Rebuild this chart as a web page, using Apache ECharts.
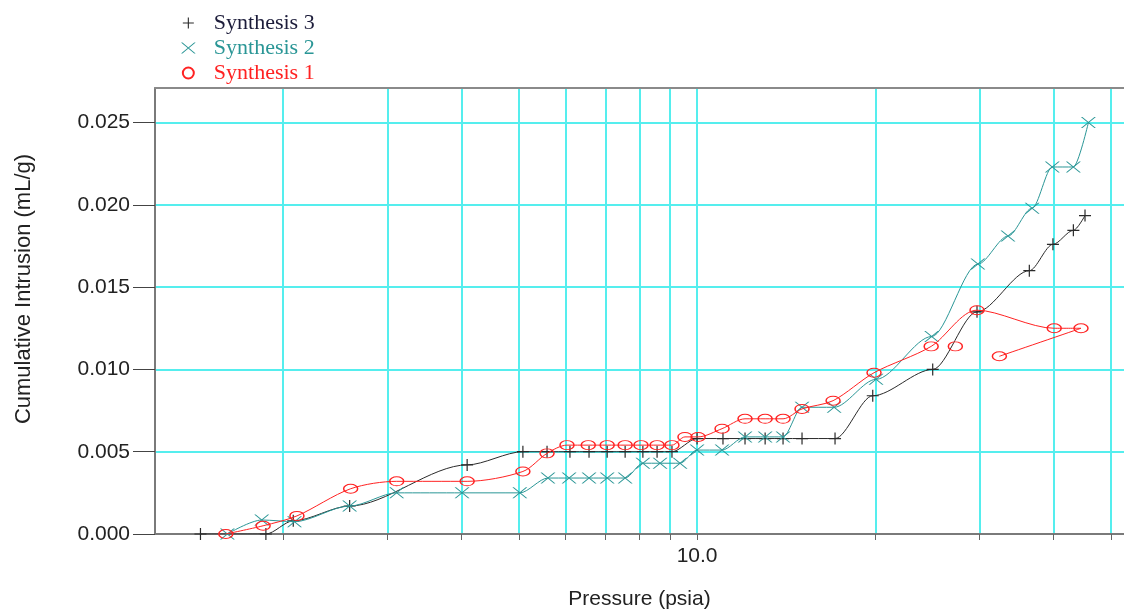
<!DOCTYPE html>
<html>
<head>
<meta charset="utf-8">
<script src="https://cdn.jsdelivr.net/npm/echarts@6/dist/echarts.min.js"></script>
<style>
html,body{margin:0;padding:0;background:#fff;}
#chart{width:1124px;height:615px;}
</style>
</head>
<body>
<div id="chart"></div>
<script>
// ---- data ----
const seriesNames = ['Synthesis 3', 'Synthesis 2', 'Synthesis 1'];

const s3Pressure = [1.45, 1.87, 2.08, 2.59, 4.09, 5.08, 5.58, 6.10, 6.57, 7.05, 7.56, 8.10, 8.56, 9.07, 10.0, 11.06, 12.05, 13.03, 13.97, 15.04, 17.1, 19.8, 25.0, 29.7, 36.4, 39.9, 43.2, 45.2];
const s3Intrusion = [0, 0, 0.0008, 0.0017, 0.0042, 0.0050, 0.0050, 0.0050, 0.0050, 0.0050, 0.0050, 0.0050, 0.0050, 0.0050, 0.0058, 0.0058, 0.0058, 0.0058, 0.0058, 0.0058, 0.0058, 0.0084, 0.0100, 0.0135, 0.0160, 0.0176, 0.01845, 0.01935];

const s2Pressure = [1.61, 1.84, 2.09, 2.59, 3.11, 4.01, 5.02, 5.60, 6.08, 6.57, 7.05, 7.56, 8.10, 8.66, 9.36, 10.0, 11.02, 12.05, 13.03, 13.97, 15.04, 17.04, 20.06, 24.9, 29.8, 33.5, 36.8, 39.8, 43.2, 45.8];
const s2Intrusion = [0, 0.00085, 0.00075, 0.0017, 0.0025, 0.0025, 0.0025, 0.0034, 0.0034, 0.0034, 0.0034, 0.0034, 0.0043, 0.0043, 0.0043, 0.0051, 0.0051, 0.0059, 0.0059, 0.0059, 0.0077, 0.0077, 0.0094, 0.0120, 0.0164, 0.0181, 0.0198, 0.0223, 0.0223, 0.0250];

const s1Pressure = [1.60, 1.85, 2.11, 2.60, 3.11, 4.09, 5.08, 5.58, 6.03, 6.55, 7.05, 7.56, 8.04, 8.56, 9.07, 9.54, 10.04, 11.02, 12.05, 13.03, 13.97, 15.04, 16.97, 19.9, 24.85, 29.7, 40.1, 44.5, 32.4, null, 27.3];
const s1Intrusion = [0, 0.0005, 0.0011, 0.00275, 0.0032, 0.0032, 0.0038, 0.0049, 0.0054, 0.0054, 0.0054, 0.0054, 0.0054, 0.0054, 0.0054, 0.0059, 0.0059, 0.0064, 0.0070, 0.0070, 0.0070, 0.0076, 0.0081, 0.0098, 0.0114, 0.0136, 0.0125, 0.0125, 0.0108, null, 0.0114];

const xTickValues = [2, 3, 4, 5, 6, 7, 8, 9, 10, 20, 30, 40, 50];
const xLabelValues = [10];
const yTickValues = [0, 0.005, 0.010, 0.015, 0.020, 0.025];
const xMin = 1.215, xMax = 52.6;
const yMin = 0, yMax = 0.0271;

// ---- build ----
function pairs(px, py) {
  return px.map((p, i) => (p == null || py[i] == null) ? ['-', '-'] : [p, py[i]]);
}

const plusPath = 'path://M5.4,0H6.6V12H5.4Z M0,5.4H12V6.6H0Z';
const crossPath = 'path://M0,0L1.6,0L16,12L14.4,12Z M14.4,0L16,0L1.6,12L0,12Z';

const cS3 = '#2a2a2a', cS2 = '#2a9696', cS1 = '#ff2222';
const sansFont = '"Liberation Sans", Arial, sans-serif';
const serifFont = '"Liberation Serif", "Times New Roman", serif';

const chart = echarts.init(document.getElementById('chart'));
const legendText = (color) => ({ color: color, fontFamily: serifFont, fontSize: 22, padding: [0, 0, 0, 13] });
const option = {
  animation: false,
  backgroundColor: '#ffffff',
  legend: {
    orient: 'vertical',
    left: 176,
    top: 7,
    itemGap: 3,
    itemWidth: 15,
    itemHeight: 11,
    textStyle: legendText('#222'),
    data: [
      { name: seriesNames[0], icon: plusPath, textStyle: legendText('#1c1c3a') },
      { name: seriesNames[1], icon: crossPath, textStyle: legendText(cS2) },
      { name: seriesNames[2], icon: 'circle', textStyle: legendText(cS1) }
    ]
  },
  grid: { left: 155, right: 0, top: 88, bottom: 77 },
  xAxis: [{
    type: 'log',
    logBase: 10,
    min: xMin,
    max: xMax,
    name: 'Pressure (psia)',
    nameLocation: 'middle',
    nameGap: 55,
    nameTextStyle: { fontFamily: sansFont, fontSize: 21, color: '#222' },
    axisLine: { show: true, onZero: false, lineStyle: { color: '#7a7a7a', width: 2 } },
    axisTick: { show: true, customValues: xTickValues, length: 6, lineStyle: { color: '#666', width: 1 } },
    axisLabel: { customValues: xLabelValues, formatter: v => Number(v).toFixed(1), margin: 12, fontFamily: sansFont, fontSize: 21, color: '#222' },
    splitLine: { show: true, lineStyle: { color: '#55eeee', width: 2 } },
    minorTick: { show: false },
    minorSplitLine: { show: false }
  }, {
    type: 'log',
    logBase: 10,
    position: 'top',
    min: xMin,
    max: xMax,
    axisLine: { show: true, onZero: false, lineStyle: { color: '#8a8a8a', width: 2 } },
    axisTick: { show: false },
    axisLabel: { show: false },
    splitLine: { show: false }
  }],
  yAxis: {
    type: 'value',
    min: yMin,
    max: yMax,
    interval: 0.005,
    name: 'Cumulative Intrusion (mL/g)',
    nameLocation: 'middle',
    nameGap: 120,
    nameRotate: 90,
    nameTextStyle: { fontFamily: sansFont, fontSize: 22, color: '#222', padding: [0, 0, 0, 44] },
    axisLine: { show: true, onZero: false, lineStyle: { color: '#7a7a7a', width: 2 } },
    axisTick: { show: true, customValues: yTickValues, length: 22, lineStyle: { color: '#444', width: 1 } },
    axisLabel: { customValues: yTickValues, formatter: v => Number(v).toFixed(3), margin: 25, fontFamily: sansFont, fontSize: 21, color: '#222' },
    splitLine: { show: true, lineStyle: { color: '#55eeee', width: 2 } }
  },
  series: [{
    name: seriesNames[0],
    type: 'line',
    data: pairs(s3Pressure, s3Intrusion),
    smooth: 0.3,
    smoothMonotone: 'x',
    symbol: plusPath,
    symbolSize: [12, 12],
    itemStyle: { color: cS3 },
    lineStyle: { color: cS3, width: 1 },
    z: 3
  }, {
    name: seriesNames[1],
    type: 'line',
    data: pairs(s2Pressure, s2Intrusion),
    smooth: 0.3,
    smoothMonotone: 'x',
    symbol: crossPath,
    symbolSize: [15, 11],
    itemStyle: { color: cS2 },
    lineStyle: { color: cS2, width: 1 },
    z: 4
  }, {
    name: seriesNames[2],
    type: 'line',
    data: pairs(s1Pressure, s1Intrusion),
    smooth: 0.3,
    connectNulls: false,
    symbol: 'circle',
    symbolSize: [14, 9],
    itemStyle: { color: 'rgba(255,255,255,0)', borderColor: cS1, borderWidth: 1.2 },
    lineStyle: { color: cS1, width: 1 },
    z: 5
  }]
};
chart.setOption(option);
</script>
</body>
</html>
